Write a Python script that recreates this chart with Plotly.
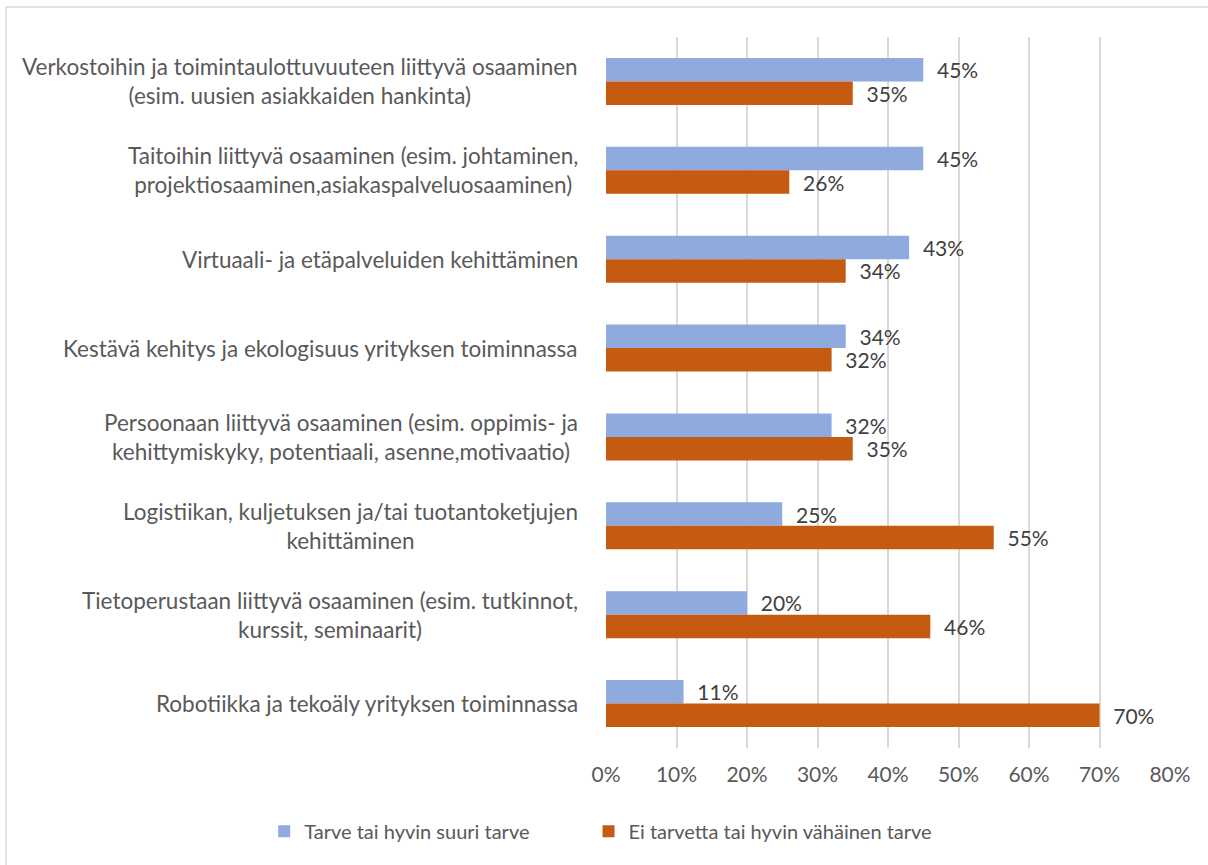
import plotly.graph_objects as go

# Osaamistarpeet: kaksi vastausryhmää per aihealue
categories = [
    "Verkostoihin ja toimintaulottuvuuteen liittyvä osaaminen<br>(esim. uusien asiakkaiden hankinta)",
    "Taitoihin liittyvä osaaminen (esim. johtaminen,<br>projektiosaaminen,asiakaspalveluosaaminen)",
    "Virtuaali- ja etäpalveluiden kehittäminen",
    "Kestävä kehitys ja ekologisuus yrityksen toiminnassa",
    "Persoonaan liittyvä osaaminen (esim. oppimis- ja<br>kehittymiskyky, potentiaali, asenne,motivaatio)",
    "Logistiikan, kuljetuksen ja/tai tuotantoketjujen<br>kehittäminen",
    "Tietoperustaan liittyvä osaaminen (esim. tutkinnot,<br>kurssit, seminaarit)",
    "Robotiikka ja tekoäly yrityksen toiminnassa",
]
need_high = [45, 45, 43, 34, 32, 25, 20, 11]
need_low = [35, 26, 34, 32, 35, 55, 46, 70]
series_names = ["Tarve tai hyvin suuri tarve", "Ei tarvetta tai hyvin vähäinen tarve"]
x_ticks = [0, 10, 20, 30, 40, 50, 60, 70, 80]
x_tick_labels = ["0%", "10%", "20%", "30%", "40%", "50%", "60%", "70%", "80%"]

FONT = "Lato"
BLUE = "#8FAADC"
ORANGE = "#C55A11"
TEXT = "#595959"
GRID = "#D9D9D9"

fig = go.Figure()
for name, vals, col, leg in [(series_names[0], need_high, BLUE, "legend"),
                             (series_names[1], need_low, ORANGE, "legend2")]:
    fig.add_trace(go.Bar(
        y=categories, x=vals, name=name, orientation="h", legend=leg,
        marker=dict(color=col, line=dict(width=0)),
        texttemplate="\u00a0\u00a0%{x:.0f}%", textposition="outside",
        textfont=dict(family=FONT, size=21, color="#404040"),
        constraintext="none", cliponaxis=False,
    ))

# Category labels centred line-by-line, right edge beside the axis
for cat in categories:
    fig.add_annotation(
        x=-0.046, xref="paper", y=cat, yref="y", text=cat,
        xanchor="right", yanchor="middle", align="center", showarrow=False,
        font=dict(family=FONT, size=22.5, color=TEXT),
    )

# Chart frame
fig.add_shape(type="rect", xref="paper", yref="paper",
              x0=-1.0638, x1=1.08, y0=-0.18, y1=1.0422,
              line=dict(color=GRID, width=1.5), layer="below")

legend_style = dict(orientation="h", xanchor="left", y=-0.117, yanchor="middle",
                    bgcolor="rgba(0,0,0,0)",
                    font=dict(family=FONT, size=20, color=TEXT))

fig.update_layout(
    width=1208, height=865,
    margin=dict(l=606, r=38, t=37, b=117),
    paper_bgcolor="white", plot_bgcolor="white",
    barmode="group", bargap=0.47, bargroupgap=0,
    font=dict(family=FONT, size=21, color=TEXT),
    showlegend=True,
    legend=dict(x=-0.606, **legend_style),
    legend2=dict(x=-0.031, **legend_style),
    xaxis=dict(range=[0, 80], tickvals=x_ticks, ticktext=x_tick_labels,
               showgrid=True, gridcolor=GRID, gridwidth=1.5, zeroline=False,
               showline=False, ticks="", ticklabelstandoff=12,
               tickfont=dict(family=FONT, size=21, color=TEXT)),
    yaxis=dict(type="category", autorange="reversed", showticklabels=False,
               showgrid=False, zeroline=False, showline=False),
)

fig.write_html("out.html")
